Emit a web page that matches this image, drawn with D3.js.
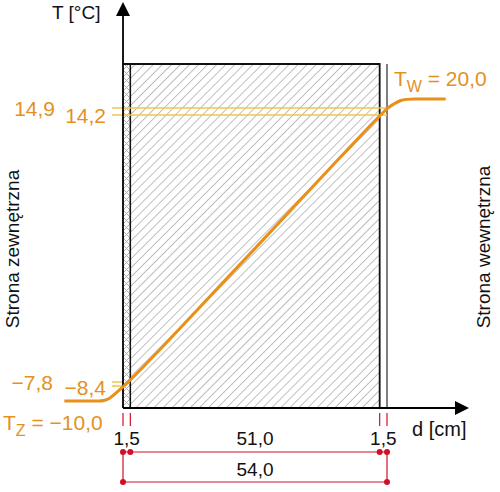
<!DOCTYPE html>
<html><head><meta charset="utf-8">
<script src="https://cdn.jsdelivr.net/npm/d3@7"></script>
<style>html,body{margin:0;padding:0;background:#fff}svg{display:block}</style>
</head><body>
<script>
// ---- data ----
const layerThickness = [1.5, 51.0, 1.5];            // cm
const totalThickness = 54.0;                        // cm
const profileD = [-12, -5, -3, 0, 1.5, 52.5, 54, 57, 59, 66]; // cm (position through the wall)
const profileT = [-10.0, -10.0, -10.0, -8.4, -7.8, 14.2, 14.9, 20.0, 20.0, 20.0]; // °C
const surfaceOutside = [-7.8, -8.4];  // labels at outer side
const surfaceInside = [14.9, 14.2];   // labels at inner side
const Tz = -10.0, Tw = 20.0;

const W = 500, H = 492;
const svg = d3.select("body").append("svg").attr("width", W).attr("height", H)
  .style("font-family", "'Liberation Sans', Arial, sans-serif");

// scales (schematic, piecewise temperature scale)
const x = d3.scaleLinear().domain([0, totalThickness]).range([123, 387]);
const y = d3.scaleLinear().domain([-10, -8.4, -7.8, 14.2, 14.9, 20]).range([401, 386, 382, 115, 108, 99]);

const fmt = v => d3.format(".1f")(v).replace(".", ",").replace("-", "\u2013");
const orange = "#e8901a", orangeText = "#e3911f", thin = "#f2c54e", red = "#cf1128";

const bounds = [0];
layerThickness.forEach(t => bounds.push(bounds[bounds.length - 1] + t));
const wallTop = 64, wallBottom = 408;

// patterns
const defs = svg.append("defs");
const p1 = defs.append("pattern").attr("id", "hatch").attr("patternUnits", "userSpaceOnUse")
  .attr("width", 6.4).attr("height", 6.4).attr("patternTransform", "rotate(45)");
p1.append("line").attr("x1", 0).attr("y1", 0).attr("x2", 0).attr("y2", 6.4)
  .attr("stroke", "#8c8c8c").attr("stroke-width", 1.1);
const p2 = defs.append("pattern").attr("id", "cross").attr("patternUnits", "userSpaceOnUse")
  .attr("width", 7).attr("height", 7).attr("x", x(0));
p2.append("path").attr("d", "M0,0L7,7M7,0L0,7").attr("stroke", "#a8a8a8").attr("stroke-width", 0.9).attr("fill", "none");

// wall layers
svg.append("rect").attr("x", x(bounds[0])).attr("y", wallTop).attr("width", x(bounds[1]) - x(bounds[0]))
  .attr("height", wallBottom - wallTop).attr("fill", "url(#cross)");
svg.append("rect").attr("x", x(bounds[1])).attr("y", wallTop).attr("width", x(bounds[2]) - x(bounds[1]))
  .attr("height", wallBottom - wallTop).attr("fill", "url(#hatch)");
// outline
svg.append("path").attr("d", `M${x(bounds[0])},${wallTop}H${x(bounds[2])}V${wallBottom}`)
  .attr("fill", "none").attr("stroke", "#111").attr("stroke-width", 1.8);
svg.append("line").attr("x1", x(bounds[1])).attr("x2", x(bounds[1])).attr("y1", wallTop).attr("y2", wallBottom)
  .attr("stroke", "#111").attr("stroke-width", 1.5);
svg.append("line").attr("x1", x(bounds[3])).attr("x2", x(bounds[3])).attr("y1", wallTop).attr("y2", wallBottom)
  .attr("stroke", "#555").attr("stroke-width", 1.5);

// thin surface-temperature lines
surfaceInside.forEach(t => {
  svg.append("line").attr("x1", 112).attr("x2", x(totalThickness)).attr("y1", y(t)).attr("y2", y(t))
    .attr("stroke", thin).attr("stroke-width", 1.5);
});
surfaceOutside.forEach(t => {
  svg.append("line").attr("x1", 112).attr("x2", x(0)).attr("y1", y(t)).attr("y2", y(t))
    .attr("stroke", thin).attr("stroke-width", 1.5);
});

// axes
svg.append("line").attr("x1", x(0)).attr("x2", x(0)).attr("y1", wallBottom).attr("y2", 14)
  .attr("stroke", "#000").attr("stroke-width", 1.8);
svg.append("path").attr("d", `M${x(0)},2L${x(0) + 7},16L${x(0) - 7},16Z`).attr("fill", "#000");
svg.append("line").attr("x1", x(0)).attr("x2", 457).attr("y1", wallBottom).attr("y2", wallBottom)
  .attr("stroke", "#000").attr("stroke-width", 1.8);
svg.append("path").attr("d", `M469,${wallBottom}L455,${wallBottom - 7}L455,${wallBottom + 7}Z`).attr("fill", "#000");

svg.append("text").attr("x", 52).attr("y", 19).attr("font-size", 19).attr("fill", "#111").text("T [°C]");
svg.append("text").attr("x", 412).attr("y", 436).attr("font-size", 20).attr("fill", "#111").text("d [cm]");

// temperature profile
const line = d3.line().x(d => x(d[0])).y(d => y(d[1])).curve(d3.curveBasis);
svg.append("path").datum(d3.zip(profileD, profileT)).attr("d", line)
  .attr("fill", "none").attr("stroke", orange).attr("stroke-width", 3);

// orange labels
const lab = (tx, ty, txt, anchor) => svg.append("text").attr("x", tx).attr("y", ty)
  .attr("font-size", 21).attr("fill", orangeText).attr("text-anchor", anchor || "start").text(txt);
lab(55, y(surfaceInside[0]) + 7.5, fmt(surfaceInside[0]), "end");
lab(106, y(surfaceInside[1]) + 8, fmt(surfaceInside[1]), "end");
lab(53, y(surfaceOutside[0]) + 8, fmt(surfaceOutside[0]), "end");
lab(106, y(surfaceOutside[1]) + 9, fmt(surfaceOutside[1]), "end");

const tw = svg.append("text").attr("x", 394).attr("y", 86).attr("font-size", 21).attr("fill", orangeText);
tw.append("tspan").text("T");
tw.append("tspan").attr("font-size", 16).attr("dy", 6).text("W");
tw.append("tspan").attr("dy", -6).text(" = " + fmt(Tw));
const tz = svg.append("text").attr("x", 3).attr("y", 430).attr("font-size", 21).attr("fill", orangeText);
tz.append("tspan").text("T");
tz.append("tspan").attr("font-size", 16).attr("dy", 6).text("Z");
tz.append("tspan").attr("dy", -6).text(" = " + fmt(Tz));

// side labels
svg.append("text").attr("transform", "translate(19,249) rotate(-90)").attr("text-anchor", "middle")
  .attr("font-size", 19).attr("fill", "#111").text("Strona zewnętrzna");
svg.append("text").attr("transform", "translate(490,247) rotate(-90)").attr("text-anchor", "middle")
  .attr("font-size", 19).attr("fill", "#111").text("Strona wewnętrzna");

// dimensions
const dimY1 = 452, dimY2 = 482;
bounds.forEach(b => {
  svg.append("line").attr("x1", x(b)).attr("x2", x(b)).attr("y1", 413).attr("y2", 426)
    .attr("stroke", red).attr("stroke-width", 1.2);
});
svg.append("line").attr("x1", x(0)).attr("x2", x(totalThickness)).attr("y1", dimY1).attr("y2", dimY1)
  .attr("stroke", red).attr("stroke-width", 1.2);
svg.append("line").attr("x1", x(0)).attr("x2", x(totalThickness)).attr("y1", dimY2).attr("y2", dimY2)
  .attr("stroke", red).attr("stroke-width", 1.2);
[0, totalThickness].forEach(b => {
  svg.append("line").attr("x1", x(b)).attr("x2", x(b)).attr("y1", dimY1).attr("y2", dimY2)
    .attr("stroke", red).attr("stroke-width", 1.2);
});
bounds.forEach(b => svg.append("circle").attr("cx", x(b)).attr("cy", dimY1).attr("r", 3).attr("fill", red));
[0, totalThickness].forEach(b => svg.append("circle").attr("cx", x(b)).attr("cy", dimY2).attr("r", 3).attr("fill", red));

layerThickness.forEach((t, i) => {
  svg.append("text").attr("x", (x(bounds[i]) + x(bounds[i + 1])) / 2).attr("y", 445)
    .attr("text-anchor", "middle").attr("font-size", 19).attr("fill", "#111").text(fmt(t));
});
svg.append("text").attr("x", (x(0) + x(totalThickness)) / 2).attr("y", 476)
  .attr("text-anchor", "middle").attr("font-size", 19).attr("fill", "#111").text(fmt(totalThickness));
</script>
</body></html>
